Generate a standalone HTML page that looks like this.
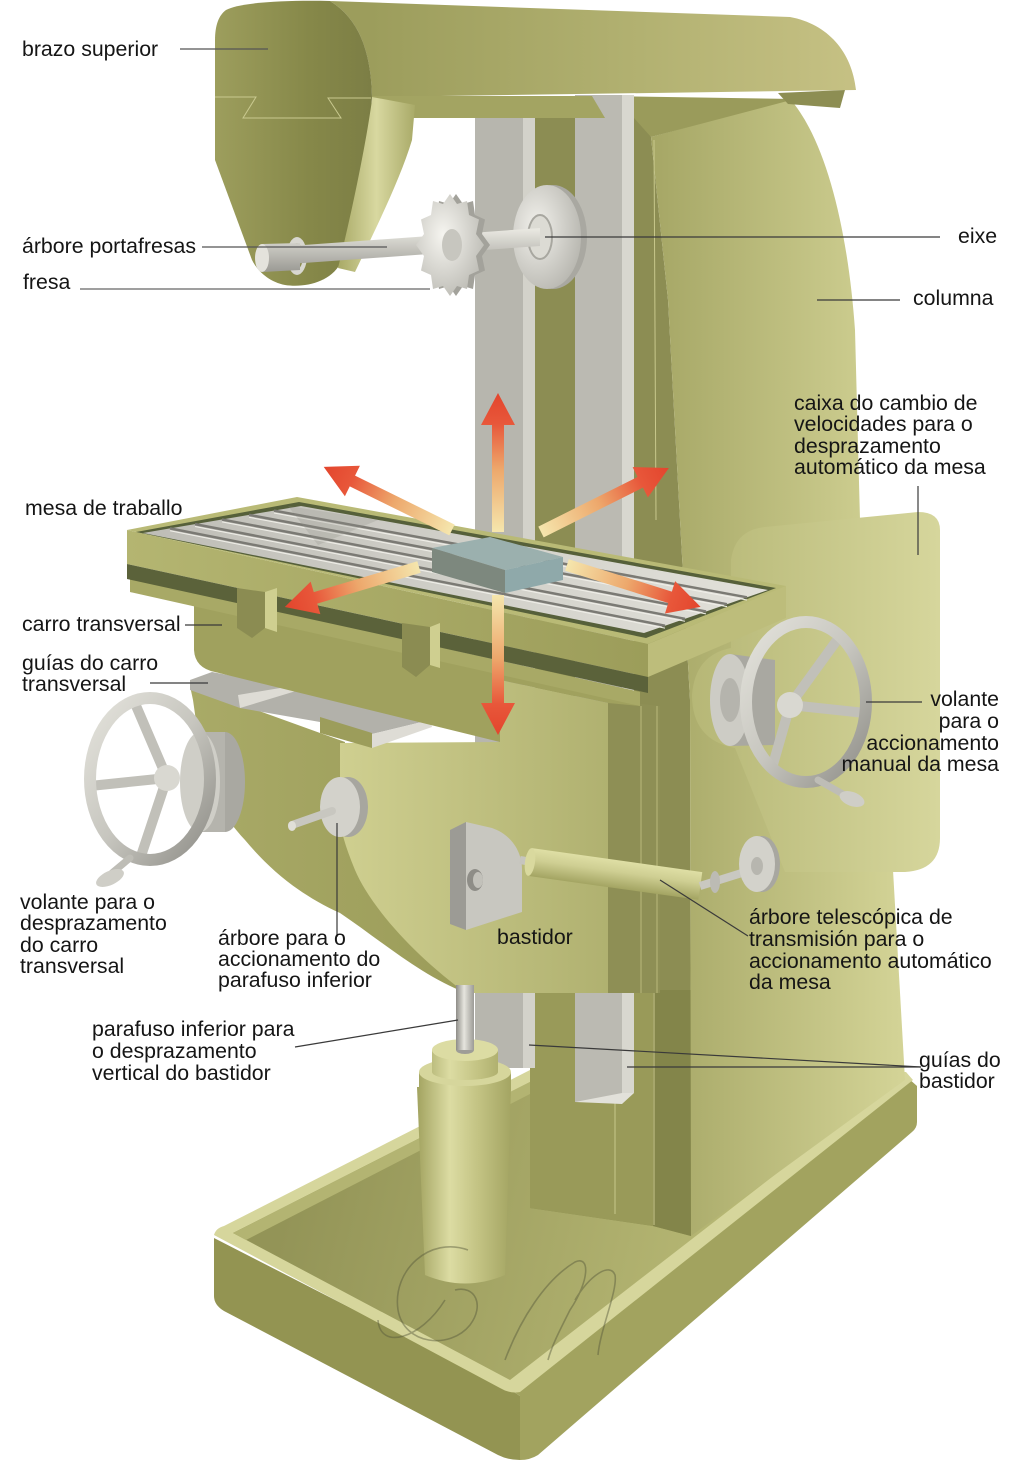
<!DOCTYPE html>
<html><head><meta charset="utf-8">
<style>
html,body{margin:0;padding:0;background:#fff;}
svg{display:block;}
text{font-family:"Liberation Sans",sans-serif;font-size:21.3px;fill:#151515;}
</style></head><body>
<svg width="1024" height="1460" viewBox="0 0 1024 1460" xmlns="http://www.w3.org/2000/svg">
<defs>
<linearGradient id="gArm" gradientUnits="userSpaceOnUse" x1="370" y1="0" x2="860" y2="0"><stop offset="0" stop-color="#9c9d5c"/><stop offset="0.55" stop-color="#b2b171"/><stop offset="1" stop-color="#c6c184"/></linearGradient>
<linearGradient id="gPend" gradientUnits="userSpaceOnUse" x1="215" y1="0" x2="372" y2="0"><stop offset="0" stop-color="#9d9e5d"/><stop offset="0.6" stop-color="#868849"/><stop offset="1" stop-color="#7c7e45"/></linearGradient>
<linearGradient id="gStrip" gradientUnits="userSpaceOnUse" x1="338" y1="0" x2="415" y2="0"><stop offset="0" stop-color="#a8a966"/><stop offset="0.5" stop-color="#d8d8a0"/><stop offset="1" stop-color="#a9aa68"/></linearGradient>
<linearGradient id="gCol" gradientUnits="userSpaceOnUse" x1="660" y1="0" x2="900" y2="0"><stop offset="0" stop-color="#a7a867"/><stop offset="1" stop-color="#d3d396"/></linearGradient>
<linearGradient id="gGear" gradientUnits="userSpaceOnUse" x1="690" y1="0" x2="940" y2="0"><stop offset="0" stop-color="#b6b776"/><stop offset="1" stop-color="#d6d69c"/></linearGradient>
<linearGradient id="gTop" gradientUnits="userSpaceOnUse" x1="140" y1="0" x2="770" y2="0"><stop offset="0" stop-color="#bebdb6"/><stop offset="1" stop-color="#e2e1da"/></linearGradient>
<linearGradient id="gTFront" gradientUnits="userSpaceOnUse" x1="127" y1="0" x2="648" y2="0"><stop offset="0" stop-color="#b4b571"/><stop offset="1" stop-color="#9c9d5a"/></linearGradient>
<linearGradient id="gKF" gradientUnits="userSpaceOnUse" x1="340" y1="0" x2="608" y2="0"><stop offset="0" stop-color="#cfcf90"/><stop offset="1" stop-color="#b0b170"/></linearGradient>
<linearGradient id="gKS" gradientUnits="userSpaceOnUse" x1="193" y1="0" x2="470" y2="0"><stop offset="0" stop-color="#a9aa67"/><stop offset="1" stop-color="#9b9c59"/></linearGradient>
<linearGradient id="gPil" gradientUnits="userSpaceOnUse" x1="417" y1="0" x2="511" y2="0"><stop offset="0" stop-color="#a2a360"/><stop offset="0.35" stop-color="#dcdca3"/><stop offset="0.65" stop-color="#c3c383"/><stop offset="1" stop-color="#a4a563"/></linearGradient>
<linearGradient id="gRod" gradientUnits="userSpaceOnUse" x1="456" y1="0" x2="474" y2="0"><stop offset="0" stop-color="#8e8d88"/><stop offset="0.45" stop-color="#e6e5de"/><stop offset="1" stop-color="#9c9b96"/></linearGradient>
<linearGradient id="gArb" gradientUnits="userSpaceOnUse" x1="0" y1="230" x2="0" y2="270"><stop offset="0" stop-color="#e8e7e0"/><stop offset="1" stop-color="#9e9d97"/></linearGradient>
<radialGradient id="gCut" cx="0.4" cy="0.4" r="0.7"><stop offset="0" stop-color="#f6f5f0"/><stop offset="1" stop-color="#b9b8b1"/></radialGradient>
<radialGradient id="gDisc" cx="0.35" cy="0.4" r="0.75"><stop offset="0" stop-color="#f2f1ec"/><stop offset="1" stop-color="#b3b2ab"/></radialGradient>
<linearGradient id="gArrow" x1="0" y1="0" x2="1" y2="0"><stop offset="0" stop-color="#f5e6ad"/><stop offset="0.45" stop-color="#eda86c"/><stop offset="0.78" stop-color="#e8573a"/><stop offset="1" stop-color="#e3452d"/></linearGradient>
<linearGradient id="gShaft" x1="0" y1="0" x2="0" y2="1"><stop offset="0" stop-color="#dfdfa5"/><stop offset="0.4" stop-color="#cfcf93"/><stop offset="1" stop-color="#a3a462"/></linearGradient>
<linearGradient id="gFloor" gradientUnits="userSpaceOnUse" x1="300" y1="1150" x2="760" y2="1260"><stop offset="0" stop-color="#939457"/><stop offset="1" stop-color="#b9ba76"/></linearGradient>
<linearGradient id="gWheel" x1="0" y1="0" x2="1" y2="1"><stop offset="0" stop-color="#e4e3dc"/><stop offset="0.5" stop-color="#c7c6bf"/><stop offset="1" stop-color="#8e8d87"/></linearGradient>
</defs>

<!-- TRAY -->
<path d="M214,1238 L511,1390 L520,1396 L520,1460 Q508,1460 498,1455 L224,1311 Q214,1305 214,1296 Z" fill="#939452"/>
<path d="M511,1390 L908,1078 L917,1086 L917,1122 Q917,1128 912,1132 L538,1455 Q530,1460 520,1460 L520,1396 Z" fill="#a2a35f"/>
<path d="M214,1235 Q216,1228 224,1226 L530,1070 L906,1072 L913,1080 L520,1392 Q510,1394 500,1388 Z" fill="#d6d69c"/>
<path d="M233,1233 L530,1082 L896,1081 L510,1380 Z" fill="url(#gFloor)"/>
<path d="M233,1233 L530,1082 L530,1094 L246,1240 Z" fill="#b3b472"/>

<!-- COLUMN -->
<polygon points="634,97 651,137 668,300 680,520 690,700 691,1236 653,1226 530,1208 530,97" fill="#8c8d53"/>
<polygon points="530,990 653,990 653,1226 530,1208" fill="#999a59"/>
<polygon points="653,990 691,990 691,1236 653,1226" fill="#83854a"/>
<path d="M651,137 L790,99 C826,140 848,230 855,330 L860,520 L872,700 L893,870 L905,1080 L691,1236 L690,700 L680,520 L668,300 Z" fill="url(#gCol)"/>
<polygon points="605,96 795,99 651,137 634,118" fill="#9a9b5b"/>
<line x1="654" y1="140" x2="656" y2="520" stroke="#c8c88c" stroke-width="1"/>
<line x1="654" y1="993" x2="654" y2="1225" stroke="#c8c88c" stroke-width="1"/>
<line x1="615" y1="1100" x2="615" y2="1214" stroke="#c8c88c" stroke-width="1"/>

<!-- GUIDES -->
<rect x="475" y="118" width="48" height="950" fill="#b7b6ae"/>
<rect x="523" y="118" width="12" height="950" fill="#d3d2ca"/>
<rect x="575" y="95" width="47" height="1007" fill="#bbbab2"/>
<rect x="622" y="95" width="12" height="998" fill="#d8d7cf"/>
<polygon points="575,1102 622,1093 634,1093 622,1104" fill="#e2e1da"/>

<!-- ARM -->
<path d="M330,1 L790,17 C828,24 852,52 856,90 L372,97 C371,50 358,18 330,1 Z" fill="url(#gArm)"/>
<polygon points="372,96 592,96 605,118 372,118" fill="#a3a462"/>
<polygon points="778,93 845,90 840,108 788,104" fill="#8d8e53"/>
<path d="M226,10 C240,2 290,0 330,1 C358,18 371,50 372,97 C370,150 352,220 340,264 C330,282 305,288 285,285 C270,282 258,272 252,260 L215,160 L215,40 C215,25 219,15 226,10 Z" fill="url(#gPend)"/>
<path d="M372,97 L415,105 L412,140 C400,180 375,230 355,272 L338,268 C350,220 365,150 372,100 Z" fill="url(#gStrip)"/>
<polyline points="215,97 256,97 243,118 341,118 328,98 371,98" fill="none" stroke="#c9c98f" stroke-width="1"/>

<!-- SPINDLE DISC, ARBOR, CUTTER -->
<ellipse cx="553" cy="237" rx="34" ry="52" fill="#a9a8a1"/>
<ellipse cx="547" cy="237" rx="34" ry="52" fill="url(#gDisc)"/>
<ellipse cx="540" cy="237" rx="12" ry="22" fill="#dcdbd4" stroke="#a8a7a0" stroke-width="2"/>
<ellipse cx="297" cy="256" rx="10" ry="19" fill="#d8d7d0"/>
<ellipse cx="297" cy="256" rx="6" ry="13" fill="#8a8c50"/>
<polygon points="262,248 540,228 540,246 262,266" fill="url(#gArb)"/>
<polygon points="262,244 300,243 300,270 262,272" fill="url(#gArb)"/>
<ellipse cx="262" cy="258" rx="7" ry="14" fill="#e4e3dc"/>
<polygon transform="translate(6,0)" points="484,245 476,256 479,270.5 469,275 467,289 457,286 450,296 443,286 433,289 431,275 421,270.5 424,256 416,245 424,234 421,219.5 431,215 433,201 443,204 450,194 457,204 467,201 469,215 479,219.5 476,234" fill="#a3a29b"/>
<polygon points="484,245 476,256 479,270.5 469,275 467,289 457,286 450,296 443,286 433,289 431,275 421,270.5 424,256 416,245 424,234 421,219.5 431,215 433,201 443,204 450,194 457,204 467,201 469,215 479,219.5 476,234" fill="url(#gCut)"/>
<ellipse cx="452" cy="245" rx="10" ry="16" fill="#c7c6bf"/>

<!-- GEARBOX -->
<path d="M765,527 Q735,530 731,560 L731,648 Q695,655 692,695 Q692,740 735,748 L785,872 L905,872 Q940,870 940,838 L940,530 Q940,512 918,512 Z" fill="url(#gGear)"/>

<!-- KNEE -->
<path d="M190,686 L345,742 L340,813 L466,993 C420,975 380,940 340,913 C300,895 270,870 245,840 C222,815 208,790 203,770 L193,700 Z" fill="url(#gKS)"/>
<path d="M340,743 L500,742 L500,680 L608,703 L608,993 L466,993 C420,960 372,910 355,870 C345,845 340,830 340,813 Z" fill="url(#gKF)"/>
<polygon points="608,700 660,706 660,993 608,993" fill="#8e8f55"/>
<line x1="641" y1="706" x2="641" y2="993" stroke="#b9ba7a" stroke-width="1"/>
<line x1="657" y1="706" x2="657" y2="993" stroke="#b9ba7a" stroke-width="1"/>

<!-- PILLAR & SCREW -->
<rect x="456" y="985" width="18" height="68" fill="url(#gRod)"/>
<path d="M417,1087 L511,1087 L505,1275 Q465,1292 425,1275 Z" fill="url(#gPil)"/>
<rect x="419" y="1072" width="92" height="18" fill="url(#gPil)"/>
<ellipse cx="465" cy="1090" rx="46" ry="10" fill="url(#gPil)"/>
<ellipse cx="465" cy="1072" rx="46" ry="14" fill="#d6d69c"/>
<rect x="432" y="1050" width="66" height="22" fill="url(#gPil)"/>
<ellipse cx="465" cy="1072" rx="33" ry="8" fill="url(#gPil)"/>
<ellipse cx="465" cy="1050" rx="33" ry="11" fill="#dcdca3"/>
<ellipse cx="465" cy="1050" rx="9" ry="4" fill="#9e9d97"/>
<rect x="456" y="1030" width="18" height="20" fill="url(#gRod)"/>

<!-- CROSS GUIDES -->
<polygon points="212,672 292,687 430,720 372,734 320,722 240,708 190,690 190,680" fill="#b2b1aa"/>
<polygon points="238,695 292,686 296,691 240,708" fill="#dedcd5"/>
<polygon points="372,734 430,720 432,727 372,748" fill="#dedcd5"/>
<polygon points="320,717 372,733 372,748 320,733" fill="#9c9d5b"/>

<!-- SADDLE -->
<path d="M130,578 L640,692 L640,706 L608,703 L500,680 L500,742 L215,672 Q195,668 194,650 L194,597 L130,592 Z" fill="#a0a15e"/>
<polygon points="130,578 640,692 640,706 130,592" fill="#a8a966"/>

<!-- TABLE -->
<polygon points="127,530 648,644 648,677 127,564" fill="url(#gTFront)"/>
<polygon points="648,644 786,586 786,618 648,677" fill="#bdbd7b"/>
<polygon points="127,564 648,677 648,693 127,579" fill="#5b623a"/>
<polygon points="127,530 297,497 786,586 648,644" fill="#b9ba76"/>
<polygon points="136,532 299,502 776,588 646,638" fill="#56603a"/>
<polygon points="143,533 301,506 768,590 644,633" fill="url(#gTop)"/>
<g stroke="#7b7a74" stroke-width="2.5">
<line x1="274" y1="510.6" x2="747" y2="597.3"/>
<line x1="249" y1="514.9" x2="727" y2="604.2"/>
<line x1="222" y1="519.5" x2="706" y2="611.5"/>
<line x1="195" y1="524.1" x2="685" y2="618.8"/>
<line x1="170" y1="528.4" x2="665" y2="625.7"/>
</g>
<g stroke="#f0efe9" stroke-width="1">
<line x1="274" y1="513" x2="747" y2="600"/>
<line x1="249" y1="517.3" x2="727" y2="606.6"/>
<line x1="222" y1="521.9" x2="706" y2="613.9"/>
<line x1="195" y1="526.5" x2="685" y2="621.2"/>
<line x1="170" y1="530.8" x2="665" y2="628.1"/>
</g>
<polygon points="288,506 378,520 318,545" fill="#8f8e88" opacity="0.25"/>
<!-- workpiece -->
<polygon points="432,548 490,537 563,557 505,570" fill="#9bb0ae"/>
<polygon points="432,548 505,570 505,593 432,572" fill="#7d887e"/>
<polygon points="505,570 563,557 563,580 505,593" fill="#8fa9aa"/>

<!-- SADDLE BLOCKS -->
<polygon points="237,588 265,592 265,628 252,638 237,628" fill="#8b8c52"/>
<polygon points="265,592 277,588 277,632 265,628" fill="#cfcf90"/>
<polygon points="402,623 430,627 430,665 416,677 402,667" fill="#8b8c52"/>
<polygon points="430,627 440,623 440,668 430,665" fill="#cfcf90"/>

<!-- LEFT HANDWHEEL -->
<ellipse cx="225" cy="782" rx="20" ry="50" fill="#a9a8a1"/>
<rect x="200" y="732" width="25" height="100" fill="#b5b4ad"/>
<ellipse cx="200" cy="782" rx="20" ry="50" fill="#cfcec7"/>
<g stroke="#c1c0b9" stroke-width="10" stroke-linecap="round">
<line x1="167" y1="778" x2="134" y2="701"/>
<line x1="167" y1="778" x2="90" y2="786"/>
<line x1="167" y1="778" x2="140" y2="859"/>
</g>
<ellipse cx="150" cy="779" rx="60" ry="81" fill="none" stroke="url(#gWheel)" stroke-width="12"/>
<circle cx="167" cy="778" r="13" fill="#d9d8d1"/>
<line x1="130" y1="858" x2="112" y2="873" stroke="#bebdb6" stroke-width="7" stroke-linecap="round"/>
<ellipse cx="110" cy="878" rx="15" ry="7" transform="rotate(-25 110 878)" fill="#cfcec7"/>

<!-- MIDDLE KNOB -->
<ellipse cx="348" cy="807" rx="20" ry="30" fill="#a7a69f"/>
<ellipse cx="340" cy="807" rx="20" ry="30" fill="#d3d2cb"/>
<line x1="292" y1="825" x2="332" y2="811" stroke="#c8c7c0" stroke-width="8" stroke-linecap="round"/>
<ellipse cx="292" cy="826" rx="4" ry="5" fill="#e0dfd8"/>

<!-- RIGHT HANDWHEEL -->
<path d="M730,654 L775,660 L775,745 L730,746 Z" fill="#a9a8a1"/>
<ellipse cx="730" cy="700" rx="20" ry="46" fill="#cdccc5"/>
<ellipse cx="730" cy="700" rx="10" ry="22" fill="#b5b4ad"/>
<g stroke="#c1c0b9" stroke-width="10" stroke-linecap="round">
<line x1="790" y1="705" x2="840" y2="636"/>
<line x1="790" y1="705" x2="865" y2="713"/>
<line x1="790" y1="705" x2="772" y2="768"/>
</g>
<ellipse cx="806" cy="702" rx="60" ry="80" fill="none" stroke="url(#gWheel)" stroke-width="12"/>
<circle cx="790" cy="705" r="13" fill="#d9d8d1"/>
<line x1="818" y1="780" x2="848" y2="797" stroke="#bebdb6" stroke-width="7" stroke-linecap="round"/>
<ellipse cx="852" cy="799" rx="13" ry="7" transform="rotate(20 852 799)" fill="#cfcec7"/>

<!-- TELESCOPIC SHAFT -->
<polygon points="450,830 466,822 466,930 450,924" fill="#9c9b95"/>
<path d="M466,822 L492,828 C512,835 522,852 522,870 L522,912 L466,930 Z" fill="#c8c7c0"/>
<ellipse cx="475" cy="880" rx="8" ry="11" fill="#8e8d87"/>
<ellipse cx="478" cy="880" rx="5" ry="8" fill="#c2c1ba"/>
<line x1="520" y1="860" x2="532" y2="862" stroke="#c6c5be" stroke-width="8"/>
<g transform="translate(530,862) rotate(8)">
<rect x="0" y="-14" width="172" height="28" fill="url(#gShaft)"/>
<ellipse cx="0" cy="0" rx="5" ry="14" fill="#d9d99e"/>
</g>
<line x1="700" y1="886" x2="745" y2="872" stroke="#c9c8c1" stroke-width="8"/>
<ellipse cx="715" cy="882" rx="5" ry="11" fill="#bcbbb4"/>
<ellipse cx="762" cy="864" rx="18" ry="28" fill="#a8a7a0"/>
<ellipse cx="757" cy="864" rx="18" ry="28" fill="#d3d2cb"/>
<ellipse cx="757" cy="866" rx="6" ry="9" fill="#b7b6af"/>

<!-- WATERMARK -->
<g fill="none" stroke="#55573a" stroke-width="1.6" opacity="0.45">
<path d="M468,1250 C430,1236 392,1270 398,1310 C404,1345 450,1350 470,1325 C485,1305 475,1285 455,1290"/>
<path d="M445,1300 C420,1340 380,1350 378,1320"/>
<path d="M505,1360 C520,1320 545,1280 575,1262 C590,1255 590,1280 570,1310 C560,1330 552,1345 548,1360 M575,1300 C590,1275 610,1262 615,1275 C618,1290 600,1330 598,1355"/>
</g>

<!-- ARROWS -->
<g fill="url(#gArrow)">
<path transform="translate(498,532) rotate(-90)" d="M0,-6 L107,-6 L107,-17 L139,0 L107,17 L107,6 L0,6 Z"/>
<path transform="translate(498,595) rotate(90)" d="M0,-6 L108,-6 L108,-17 L140,0 L108,17 L108,6 L0,6 Z"/>
<path transform="translate(452,530) rotate(-153.8)" d="M0,-6 L111,-6 L111,-17 L143,0 L111,17 L111,6 L0,6 Z"/>
<path transform="translate(541,532) rotate(-26.6)" d="M0,-6 L111,-6 L111,-17 L143,0 L111,17 L111,6 L0,6 Z"/>
<path transform="translate(419,567) rotate(163.4)" d="M0,-6 L108,-6 L108,-17 L140,0 L108,17 L108,6 L0,6 Z"/>
<path transform="translate(567,565) rotate(17.4)" d="M0,-6 L108,-6 L108,-17 L140,0 L108,17 L108,6 L0,6 Z"/>
</g>

<!-- LEADER LINES -->
<g stroke="#3a3a3a" stroke-width="1.2" fill="none">
<line x1="180" y1="49" x2="268" y2="49" stroke="#555"/>
<line x1="202" y1="247" x2="387" y2="247" stroke="#555"/>
<line x1="80" y1="289" x2="430" y2="289" stroke="#666"/>
<line x1="545" y1="237" x2="940" y2="237"/>
<line x1="817" y1="300" x2="900" y2="300"/>
<line x1="918" y1="486" x2="918" y2="555"/>
<line x1="185" y1="625" x2="222" y2="625"/>
<line x1="150" y1="683" x2="208" y2="683"/>
<line x1="866" y1="702" x2="922" y2="702"/>
<line x1="337" y1="823" x2="337" y2="937"/>
<line x1="660" y1="880" x2="748" y2="936"/>
<line x1="295" y1="1047" x2="458" y2="1020"/>
<line x1="529" y1="1045" x2="921" y2="1067"/>
<line x1="627" y1="1067" x2="921" y2="1067"/>
</g>

<!-- LABELS -->
<text x="22" y="56">brazo superior</text>
<text x="22" y="253">árbore portafresas</text>
<text x="23" y="289">fresa</text>
<text x="958" y="243">eixe</text>
<text x="913" y="305">columna</text>
<text x="794" y="410">caixa do cambio de</text>
<text x="794" y="431">velocidades para o</text>
<text x="794" y="453">desprazamento</text>
<text x="794" y="474">automático da mesa</text>
<text x="25" y="515">mesa de traballo</text>
<text x="22" y="631">carro transversal</text>
<text x="22" y="670">guías do carro</text>
<text x="22" y="691">transversal</text>
<text x="999" y="706" text-anchor="end">volante</text>
<text x="999" y="728" text-anchor="end">para o</text>
<text x="999" y="750" text-anchor="end">accionamento</text>
<text x="999" y="771" text-anchor="end">manual da mesa</text>
<text x="20" y="909">volante para o</text>
<text x="20" y="930">desprazamento</text>
<text x="20" y="952">do carro</text>
<text x="20" y="973">transversal</text>
<text x="218" y="945">árbore para o</text>
<text x="218" y="966">accionamento do</text>
<text x="218" y="987">parafuso inferior</text>
<text x="497" y="944">bastidor</text>
<text x="749" y="924">árbore telescópica de</text>
<text x="749" y="946">transmisión para o</text>
<text x="749" y="968">accionamento automático</text>
<text x="749" y="989">da mesa</text>
<text x="92" y="1036">parafuso inferior para</text>
<text x="92" y="1058">o desprazamento</text>
<text x="92" y="1080">vertical do bastidor</text>
<text x="919" y="1067">guías do</text>
<text x="919" y="1088">bastidor</text>
</svg>
</body></html>
